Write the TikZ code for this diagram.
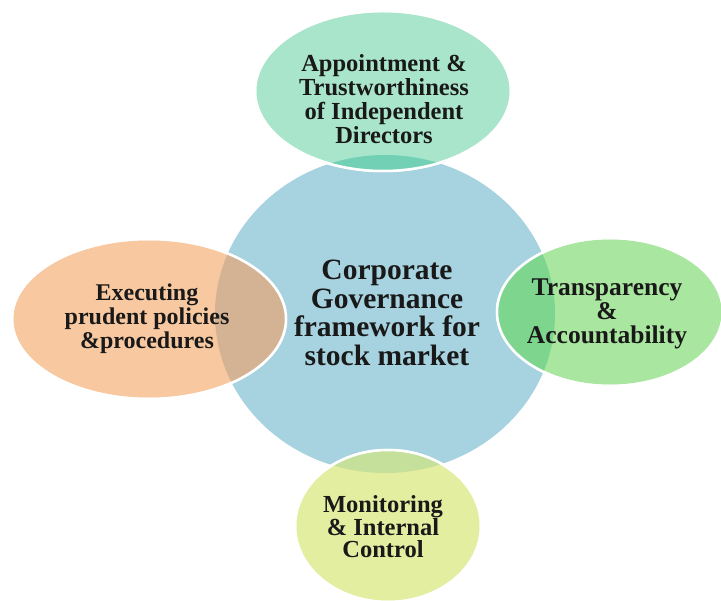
\documentclass[tikz,border=0pt]{standalone}
\usepackage{fontspec}
\setmainfont{Liberation Serif}
\usepackage{xcolor}

\definecolor{hubblue}{RGB}{167,211,224}
\definecolor{topmint}{RGB}{169,229,203}
\definecolor{topdark}{RGB}{114,208,181}
\definecolor{leftpeach}{RGB}{248,201,160}
\definecolor{leftdark}{RGB}{211,179,147}
\definecolor{rightgreen}{RGB}{169,230,159}
\definecolor{rightdark}{RGB}{126,213,142}
\definecolor{botyellow}{RGB}{227,238,160}
\definecolor{botdark}{RGB}{197,224,155}

\begin{document}
\begin{tikzpicture}[x=1pt,y=-1pt,
  petal/.style={draw=white, line width=2.5pt},
  lbl/.style={align=center, inner sep=0pt, text=black!90}]

\useasboundingbox (0,0) rectangle (721,601);

% centre
\fill [color=hubblue] (385,314) ellipse (170pt and 159pt);

% top
\filldraw [petal, fill=topmint] (383,91) ellipse (128pt and 80pt);
\begin{scope}
\clip (385,314) ellipse (170pt and 159pt);
\fill [color=topdark] (383,91) ellipse (128pt and 80pt);
\end{scope}
\draw [petal] (383,91) ellipse (128pt and 80pt);

% left
\filldraw [petal, fill=leftpeach] (149,319) ellipse (137pt and 80pt);
\begin{scope}
\clip (385,314) ellipse (170pt and 159pt);
\fill [color=leftdark] (149,319) ellipse (137pt and 80pt);
\end{scope}
\draw [petal] (149,319) ellipse (137pt and 80pt);

% right
\filldraw [petal, fill=rightgreen] (610,312) ellipse (113pt and 74pt);
\begin{scope}
\clip (385,314) ellipse (170pt and 159pt);
\fill [color=rightdark] (610,312) ellipse (113pt and 74pt);
\end{scope}
\draw [petal] (610,312) ellipse (113pt and 74pt);

% bottom
\filldraw [petal, fill=botyellow] (388,526) ellipse (93pt and 76pt);
\begin{scope}
\clip (385,314) ellipse (170pt and 159pt);
\fill [color=botdark] (388,526) ellipse (93pt and 76pt);
\end{scope}
\draw [petal] (388,526) ellipse (93pt and 76pt);

\node [lbl, font=\fontsize{29.5}{28.5}\selectfont\bfseries] (hub) at (387,313)
  {Corporate\\Governance\\framework for\\stock market};
\node [lbl, font=\fontsize{24.5}{24}\selectfont\bfseries] (directors) at (384,99)
  {Appointment \&\\Trustworthiness\\of Independent\\Directors};
\node [lbl, font=\fontsize{24}{24}\selectfont\bfseries] (policies) at (147,319)
  {Executing\\prudent policies\\\&procedures};
\node [lbl, font=\fontsize{25.5}{24}\selectfont\bfseries] (transparency) at (607,314)
  {Transparency\\\&\\Accountability};
\node [lbl, font=\fontsize{24.5}{22.5}\selectfont\bfseries] (monitoring) at (383,527)
  {Monitoring\\\& Internal\\Control};

\end{tikzpicture}
\end{document}
